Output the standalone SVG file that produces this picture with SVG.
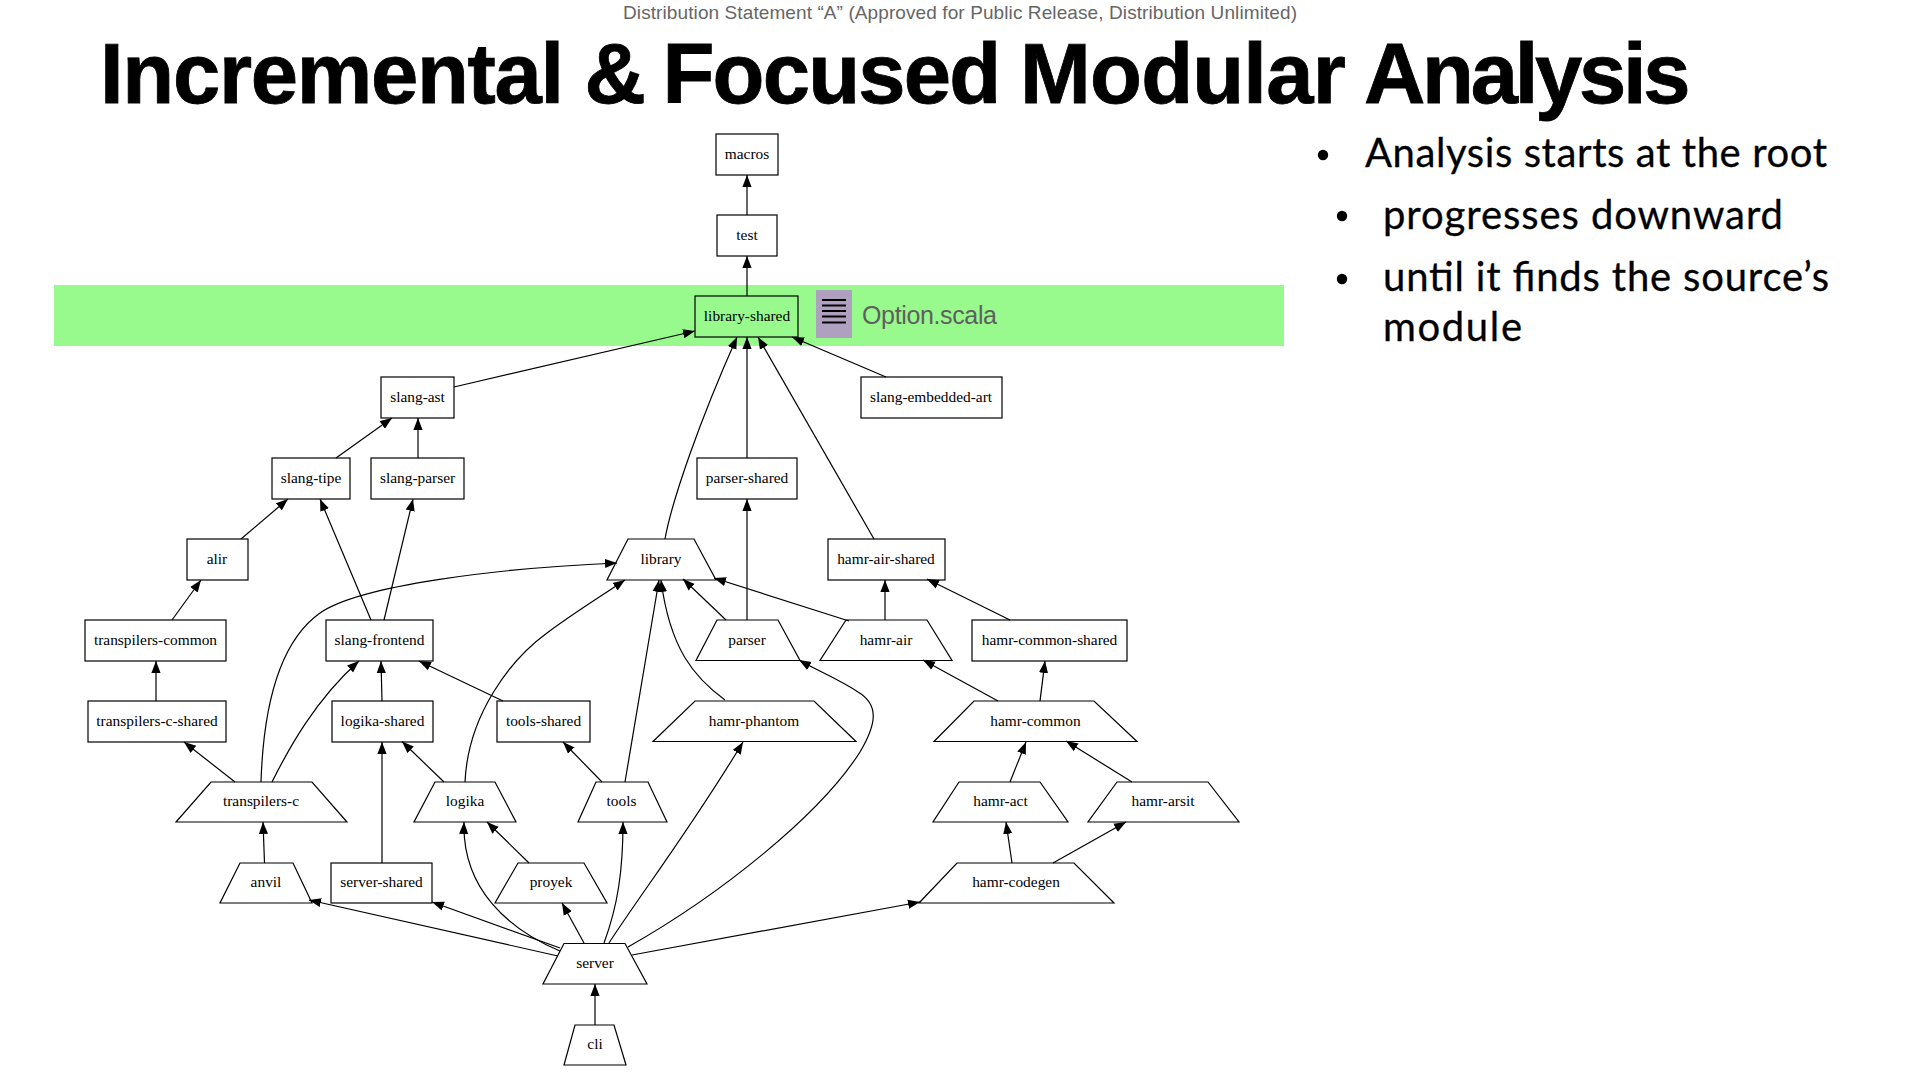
<svg xmlns="http://www.w3.org/2000/svg" width="1920" height="1080" viewBox="0 0 1920 1080">
<style>
.n{fill:#fff;stroke:#000;stroke-width:1.2}
.t{font-family:"Liberation Serif","Times New Roman",serif;font-size:15.4px;fill:#000;text-anchor:middle}
.e{fill:none;stroke:#000;stroke-width:1.2;marker-end:url(#a)}
.b{font-family:Lato,"Open Sans",sans-serif;font-size:40px;fill:#000;stroke:#000;stroke-width:.3}
.s{font-family:"Liberation Sans",Arial,sans-serif}
</style>
<defs><marker id="a" markerUnits="userSpaceOnUse" markerWidth="13" markerHeight="12" refX="12" refY="5" orient="auto"><path d="M0,0.4L12,5L0,9.6Z" fill="#000"/></marker></defs>
<rect width="1920" height="1080" fill="#fff"/>
<text class="s" x="960" y="19" font-size="19" fill="#666" text-anchor="middle" textLength="674">Distribution Statement “A” (Approved for Public Release, Distribution Unlimited)</text>
<text class="s" y="103" font-size="85" font-weight="700" fill="#000" letter-spacing="-1.3" stroke="#000" stroke-width=".8"><tspan x="100">Incremental </tspan><tspan x="584.500">&amp; </tspan><tspan x="662.500" letter-spacing="-1.8">Focused </tspan><tspan x="1020" letter-spacing="-.8">Modular </tspan><tspan x="1364" letter-spacing="-3.3">Analysis</tspan></text>
<rect x="54" y="285" width="1230" height="61" fill="#98f98c"/>
<g id="file-icon"><rect x="816" y="290" width="36" height="48" fill="#b0a0c0"/>
<path d="M822,300H846M822,305.5H846M822,311H846M822,316.5H846M822,322.5H846" stroke="#000" stroke-width="2"/></g>
<text class="s" x="862" y="324" font-size="25" fill="#5f5f5f" textLength="135">Option.scala</text>
<g id="bullets">
<circle cx="1323" cy="155" r="5.2"/><text class="b" x="1365" y="166.500" textLength="462">Analysis starts at the root</text>
<circle cx="1342" cy="216" r="5.2"/><text class="b" x="1383" y="228.500" textLength="400">progresses downward</text>
<circle cx="1342" cy="279" r="5.2"/><text class="b" x="1383" y="290.500" textLength="446">until it finds the source’s</text>
<text class="b" x="1383" y="340.500" textLength="139">module</text>
</g>
<g id="nodes">
<g id="macros"><rect class="n" x="716" y="134" width="62" height="41"/><text class="t" x="747" y="159">macros</text></g>
<g id="test"><rect class="n" x="717" y="215" width="60" height="41"/><text class="t" x="747" y="240">test</text></g>
<g id="library-shared"><rect class="n" style="fill:none" x="695" y="296" width="103" height="41"/><text class="t" x="747" y="321">library-shared</text></g>
<g id="slang-ast"><rect class="n" x="381" y="377" width="73" height="41"/><text class="t" x="417.500" y="402">slang-ast</text></g>
<g id="slang-embedded-art"><rect class="n" x="861" y="377" width="141" height="41"/><text class="t" x="931" y="402">slang-embedded-art</text></g>
<g id="slang-tipe"><rect class="n" x="272" y="458" width="78" height="41"/><text class="t" x="311" y="483">slang-tipe</text></g>
<g id="slang-parser"><rect class="n" x="371" y="458" width="93" height="41"/><text class="t" x="417.500" y="483">slang-parser</text></g>
<g id="parser-shared"><rect class="n" x="697" y="458" width="100" height="41"/><text class="t" x="747" y="483">parser-shared</text></g>
<g id="alir"><rect class="n" x="187" y="539" width="61" height="41"/><text class="t" x="217" y="564">alir</text></g>
<g id="library"><path class="n" d="M628,539H694L716,580H607Z"/><text class="t" x="661" y="564">library</text></g>
<g id="hamr-air-shared"><rect class="n" x="828" y="539" width="117" height="41"/><text class="t" x="886" y="564">hamr-air-shared</text></g>
<g id="transpilers-common"><rect class="n" x="85" y="620" width="141" height="41"/><text class="t" x="155.500" y="645">transpilers-common</text></g>
<g id="slang-frontend"><rect class="n" x="326" y="620" width="107" height="41"/><text class="t" x="379.500" y="645">slang-frontend</text></g>
<g id="parser"><path class="n" d="M717,620H778L800,660.500H696Z"/><text class="t" x="747" y="645">parser</text></g>
<g id="hamr-air"><path class="n" d="M846,620H927L952,660.500H820Z"/><text class="t" x="886" y="645">hamr-air</text></g>
<g id="hamr-common-shared"><rect class="n" x="972" y="620" width="155" height="41"/><text class="t" x="1049.500" y="645">hamr-common-shared</text></g>
<g id="transpilers-c-shared"><rect class="n" x="88" y="701" width="138" height="41"/><text class="t" x="157" y="726">transpilers-c-shared</text></g>
<g id="logika-shared"><rect class="n" x="332" y="701" width="101" height="41"/><text class="t" x="382.500" y="726">logika-shared</text></g>
<g id="tools-shared"><rect class="n" x="497" y="701" width="93" height="41"/><text class="t" x="543.500" y="726">tools-shared</text></g>
<g id="hamr-phantom"><path class="n" d="M695,701H814L856,741.500H653Z"/><text class="t" x="754" y="726">hamr-phantom</text></g>
<g id="hamr-common"><path class="n" d="M974,701H1094L1137,741.500H934Z"/><text class="t" x="1035.500" y="726">hamr-common</text></g>
<g id="transpilers-c"><path class="n" d="M211,782H312L347,822H176Z"/><text class="t" x="261" y="806">transpilers-c</text></g>
<g id="logika"><path class="n" d="M435,782H495L516,822H414Z"/><text class="t" x="465" y="806">logika</text></g>
<g id="tools"><path class="n" d="M596,782H648L667,822H578Z"/><text class="t" x="621.500" y="806">tools</text></g>
<g id="hamr-act"><path class="n" d="M959,782H1040L1068,822H933Z"/><text class="t" x="1000.500" y="806">hamr-act</text></g>
<g id="hamr-arsit"><path class="n" d="M1117,782H1208L1239,822H1088Z"/><text class="t" x="1163" y="806">hamr-arsit</text></g>
<g id="anvil"><path class="n" d="M240,863H293L312,903H220Z"/><text class="t" x="266" y="887">anvil</text></g>
<g id="server-shared"><rect class="n" x="331" y="863" width="101" height="40"/><text class="t" x="381.500" y="887">server-shared</text></g>
<g id="proyek"><path class="n" d="M518,863H584L607,903H495Z"/><text class="t" x="551" y="887">proyek</text></g>
<g id="hamr-codegen"><path class="n" d="M957,863H1074L1114,903H919Z"/><text class="t" x="1016" y="887">hamr-codegen</text></g>
<g id="server"><path class="n" d="M564,943.500H625L647,984H543Z"/><text class="t" x="595" y="968">server</text></g>
<g id="cli"><path class="n" d="M575,1025H614L626,1065H564Z"/><text class="t" x="595" y="1049">cli</text></g>
</g>
<g id="connectors">
<path class="e" d="M747,215V175"/>
<path class="e" d="M747,296V256"/>
<path class="e" d="M454,387L695,331"/>
<path class="e" d="M886,377L792,337"/>
<path class="e" d="M665,539C672,500 700,420 737,337"/>
<path class="e" d="M747,458V337"/>
<path class="e" d="M874,539L758,337"/>
<path class="e" d="M336,458L392,418"/>
<path class="e" d="M418,458V418"/>
<path class="e" d="M241,539L288,499"/>
<path class="e" d="M371,620L320,499"/>
<path class="e" d="M384,620L413,499"/>
<path class="e" d="M747,620V499"/>
<path class="e" d="M885,620V580"/>
<path class="e" d="M1010,620L927,579"/>
<path class="e" d="M172,620L201,580"/>
<path class="e" d="M156,701V661"/>
<path class="e" d="M382,701L381,661"/>
<path class="e" d="M503,701L419,661"/>
<path class="e" d="M235,782L184,742"/>
<path class="e" d="M272,782C288,750 315,700 359,661"/>
<path class="e" d="M261,782C263,720 275,645 320,613C360,585 500,568 617,563"/>
<path class="e" d="M444,782L402,741.500"/>
<path class="e" d="M465,782C468,715 510,660 547,633C575,612 600,597 625,580"/>
<path class="e" d="M382,863V742"/>
<path class="e" d="M602,782L563,742"/>
<path class="e" d="M625,782L659,580"/>
<path class="e" d="M725,700C695,678 670,650 661,580"/>
<path class="e" d="M726,620L683,579"/>
<path class="e" d="M849,621L714,578"/>
<path class="e" d="M998,701L923,660"/>
<path class="e" d="M1040,701L1045,661"/>
<path class="e" d="M1010,782L1026,742"/>
<path class="e" d="M1132,782L1066,741"/>
<path class="e" d="M1012,863L1006,822"/>
<path class="e" d="M1053,863L1126,822"/>
<path class="e" d="M264.500,863L263,822"/>
<path class="e" d="M529,863L487,822"/>
<path class="e" d="M584,943L562,903"/>
<path class="e" d="M604,943C618,905 623,870 623,822"/>
<path class="e" d="M560,951C510,930 462,890 464,822"/>
<path class="e" d="M558,956L309,900"/>
<path class="e" d="M560,948L432,902"/>
<path class="e" d="M609,943C640,895 690,830 743,742"/>
<path class="e" d="M628,947C720,895 820,815 860,752C876,725 880,705 858,692C840,680 820,672 799,660"/>
<path class="e" d="M632,955L920,902"/>
<path class="e" d="M595,1025V984"/>
</g>
</svg>
